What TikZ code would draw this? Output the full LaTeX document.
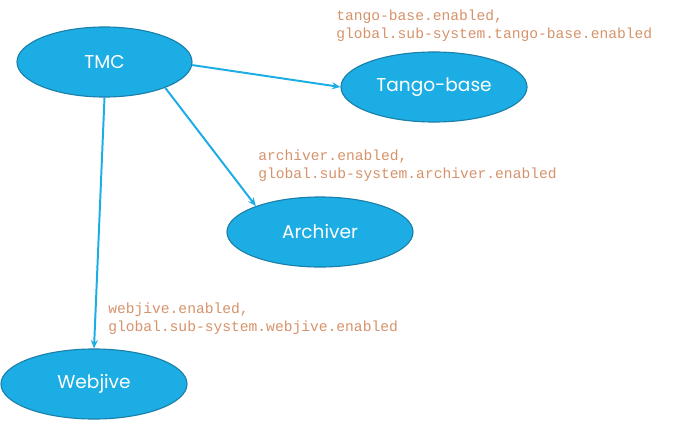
\documentclass[tikz,border=0pt]{standalone}
\usepackage{fontspec}
\setmainfont{Poppins}
\setmonofont{Liberation Mono}
\usepackage{xcolor}
\usetikzlibrary{arrows.meta,positioning,shapes.geometric}

\definecolor{subblue}{RGB}{28,173,228}
\definecolor{subedge}{RGB}{26,128,170}
\definecolor{flagtext}{RGB}{214,146,106}

\tikzset{
    subsys/.style={ellipse, draw=subedge, line width=0.8pt, fill=subblue,
        text=white, font=\fontsize{13.2}{15}\selectfont,
        minimum width=4.65cm, minimum height=1.75cm, inner sep=0pt},
    flag/.style={anchor=north west, align=left, inner sep=0pt, text=flagtext,
        font=\ttfamily\fontsize{10.4}{12.8}\selectfont},
    link/.style={-{Stealth[length=6pt,width=5pt]}, line width=1.4pt, draw=subblue}
}

\begin{document}
\begin{tikzpicture}[x=0.025cm, y=-0.025cm]
    \useasboundingbox (0,0) rectangle (675,420);

    % Sub-systems
    \node[subsys, minimum width=4.375cm] (tmc) at (104.5,62) {TMC};
    \node[subsys] (tango) at (434,87) {Tango-base};
    \node[subsys] (archiver) at (320,232) {Archiver};
    \node[subsys] (webjive) at (94,384) {Webjive};

    % Links
    \draw[link] (tmc.-2) -- (tango.180);
    \draw[link] (tmc.-23) -- (archiver.158);
    \draw[link] (tmc.south) -- (webjive.north);

    % Enable flags
    \node[flag] (tangoflag) at (336,10) {tango-base.enabled,\\global.sub-system.tango-base.enabled};
    \node[flag] (archflag) at (258,150) {archiver.enabled,\\global.sub-system.archiver.enabled};
    \node[flag] (webflag) at (108,303) {webjive.enabled,\\global.sub-system.webjive.enabled};
\end{tikzpicture}
\end{document}
